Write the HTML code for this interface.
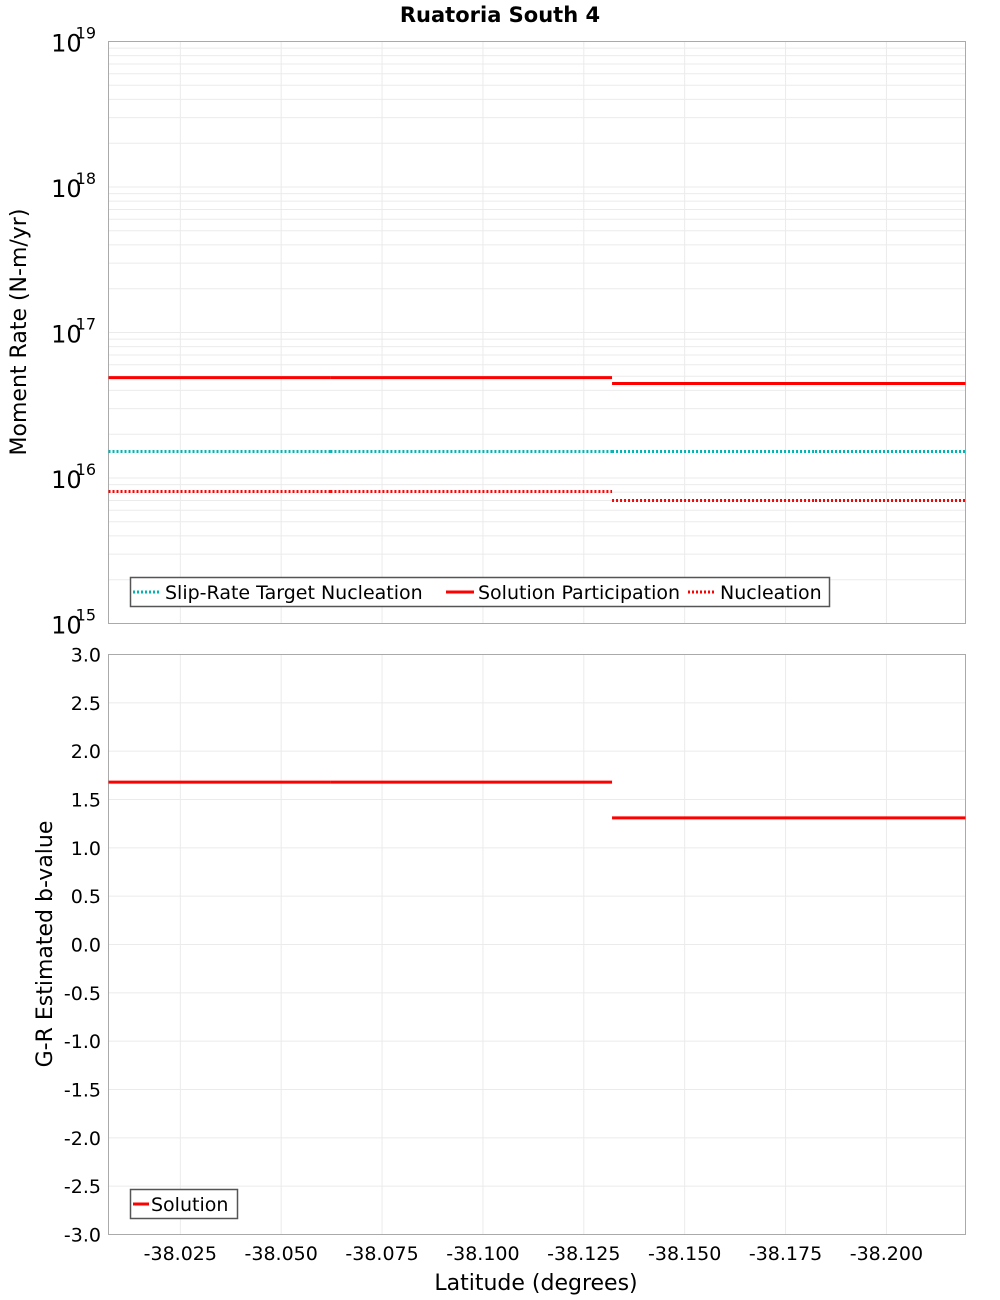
<!DOCTYPE html>
<html><head><meta charset="utf-8"><style>
body{margin:0;background:#fff;}
svg{display:block;font-family:"DejaVu Sans","Liberation Sans",sans-serif;}
</style></head><body>
<svg id="c" width="1000" height="1300">
<text x="500" y="22" text-anchor="middle" font-size="21" font-weight="bold">Ruatoria South 4</text>
<g id="g1"></g>
<g id="g2"></g>
<text transform="translate(26,332) rotate(-90)" text-anchor="middle" font-size="22">Moment Rate (N-m/yr)</text>
<text transform="translate(52,944) rotate(-90)" text-anchor="middle" font-size="22">G-R Estimated b-value</text>
<text x="536" y="1290" text-anchor="middle" font-size="22">Latitude (degrees)</text>
</svg>
<script>
const segStarts=[-38.0072,-38.0622,-38.1320,-38.1823];
const segEnds=[-38.0622,-38.1320,-38.1823,-38.2196];
const participation=[4.9e16,4.9e16,4.46e16,4.46e16];
const target=[1.52e16,1.52e16,1.52e16,1.52e16];
const nucleation=[8.07e15,8.07e15,7.0e15,7.0e15];
const bvalues=[1.68,1.68,1.31,1.31];
const xTicks=[-38.025,-38.05,-38.075,-38.1,-38.125,-38.15,-38.175,-38.2];
const xTickLabels=["-38.025","-38.050","-38.075","-38.100","-38.125","-38.150","-38.175","-38.200"];
const decades=[15,16,17,18,19];
const bTicks=[3,2.5,2,1.5,1,0.5,0,-0.5,-1,-1.5,-2,-2.5,-3];

const L=108.5,R=965.5,T1=41.5,B1=623.5,T2=654.5,B2=1234.5;
const xMin=-38.0072,xMax=-38.2196;
const X=v=>L+(v-xMin)/(xMax-xMin)*(R-L);
const Y1=v=>B1-(Math.log10(v)-15)/4*(B1-T1);
const Y2=v=>B2-(v+3)/6*(B2-T2);
const NS="http://www.w3.org/2000/svg";
function mk(p,tag,a,txt){const e=document.createElementNS(NS,tag);for(const k in a)e.setAttribute(k,a[k]);if(txt!==undefined)e.textContent=txt;p.appendChild(e);return e;}
const g1=document.getElementById('g1'),g2=document.getElementById('g2');
const grid='#ebebeb';
// plot 1 grid
for(let d=15;d<19;d++)for(let m=1;m<10;m++){const y=Y1(m*Math.pow(10,d));const l=mk(g1,'line',{x1:L,x2:R,y1:y,y2:y,stroke:grid,'stroke-width':1});

}
for(const t of xTicks){const x=X(t);for(const [g,a,b] of [[g1,T1,B1],[g2,T2,B2]]){const l=mk(g,'line',{x1:x,x2:x,y1:a,y2:b,stroke:grid,'stroke-width':1});

}}
for(const d of decades){const y=Y1(Math.pow(10,d));const t=mk(g1,'text',{x:96,y:y+10,'text-anchor':'end','font-size':24});


t.textContent='10';mk(t,'tspan',{dx:-6,dy:-13,'font-size':16},String(d));}
for(const b of bTicks){const y=Y2(b);if(b!==3&&b!==-3){const l=mk(g2,'line',{x1:L,x2:R,y1:y,y2:y,stroke:grid,'stroke-width':1});

}
const t=mk(g2,'text',{x:101,y:y+7,'text-anchor':'end','font-size':19},b.toFixed(1));

}
xTicks.forEach((t,i)=>{const e=mk(g2,'text',{x:X(t),y:1260,'text-anchor':'middle','font-size':19},xTickLabels[i]);

});
for(const [g,a,b] of [[g1,T1,B1],[g2,T2,B2]]){const r=mk(g,'rect',{x:L,y:a,width:R-L,height:b-a,fill:'none',stroke:'#aaa','stroke-width':1});

}
function series(g,vals,Y,color,dash,name){vals.forEach((v,i)=>{const a={x1:X(segStarts[i]),x2:X(segEnds[i]),y1:Y(v),y2:Y(v),stroke:color,'stroke-width':3};if(dash)a['stroke-dasharray']='2,2';const l=mk(g,'line',a);

});}
series(g1,target,Y1,'#00b4b4',true,'target-nucleation-segment');
series(g1,nucleation,Y1,'#ff0000',true,'nucleation-segment');
series(g1,participation,Y1,'#ff0000',false,'participation-segment');
series(g2,bvalues,Y2,'#ff0000',false,'b-value-segment');
// legends
const lg=mk(g1,'g',{});


mk(lg,'rect',{x:130.5,y:577.5,width:699,height:29,fill:'#fff',stroke:'#555','stroke-width':1.5});
const items=[[133,'#00b4b4',true,'Slip-Rate Target Nucleation'],[446,'#ff0000',false,'Solution Participation'],[688,'#ff0000',true,'Nucleation']];
for(const [x,c,d,t] of items){const a={x1:x,x2:x+28,y1:592,y2:592,stroke:c,'stroke-width':3};if(d)a['stroke-dasharray']='2,2';mk(lg,'line',a);
const e=mk(lg,'text',{x:x+32,y:599,'font-size':19},t);

}
const lg2=mk(g2,'g',{});


mk(lg2,'rect',{x:130.5,y:1189.5,width:107,height:29,fill:'#fff',stroke:'#555','stroke-width':1.5});
mk(lg2,'line',{x1:133,x2:149,y1:1204,y2:1204,stroke:'#ff0000','stroke-width':3});
const e2=mk(lg2,'text',{x:151,y:1211,'font-size':19},'Solution');


</script>
</body></html>
